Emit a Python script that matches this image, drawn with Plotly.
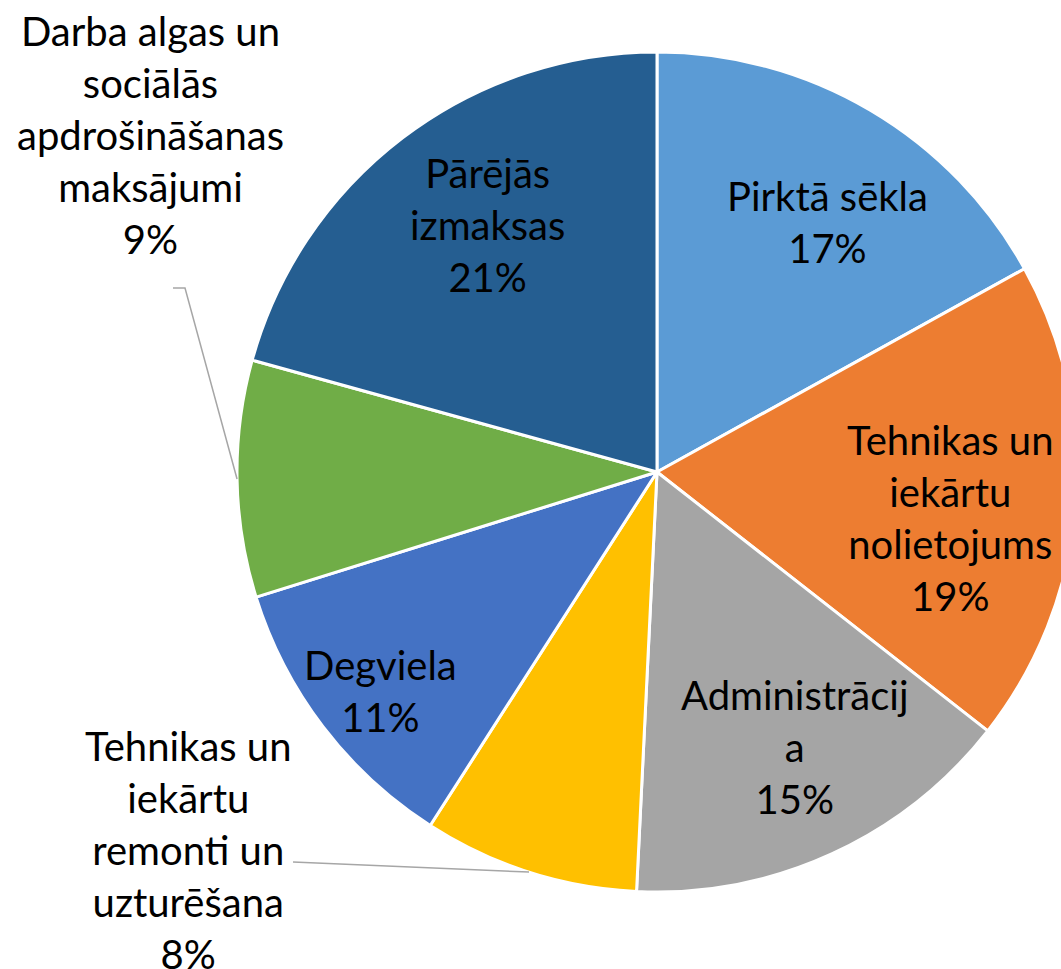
import math
import plotly.graph_objects as go

# ---- data ----
categories = [
    "Pirktā sēkla",
    "Tehnikas un iekārtu nolietojums",
    "Administrācija",
    "Tehnikas un iekārtu remonti un uzturēšana",
    "Degviela",
    "Darba algas un sociālās apdrošināšanas maksājumi",
    "Pārējās izmaksas",
]
values = [16.95, 18.6, 15.2, 8.3, 11.1, 9.1, 20.7]
# label text as wrapped in the original
label_lines = [
    ["Pirktā sēkla"],
    ["Tehnikas un", "iekārtu", "nolietojums"],
    ["Administrācij", "a"],
    ["Tehnikas un", "iekārtu", "remonti un", "uzturēšana"],
    ["Degviela"],
    ["Darba algas un", "sociālās", "apdrošināšanas", "maksājumi"],
    ["Pārējās", "izmaksas"],
]
colors = ["#5B9BD5", "#ED7D31", "#A5A5A5", "#FFC000", "#4472C4", "#70AD47", "#255E91"]

# ---- layout geometry (pixels) ----
W, H = 1100, 969
CX, CY, R = 657, 472, 420
# label centers (pixels)
label_pos = [(827, 222), (950, 518), (795, 747), (188, 850), (380, 691), (150, 135), (487, 225)]
# leader-line label-side points for outside labels: index -> list of points
leaders = {5: [(173, 288), (185, 288)], 3: [(293, 862)]}

FONT = "Lato, sans-serif"
FS = 40


def px(x):
    return x / W


def py(y):
    return 1 - y / H


fig = go.Figure(
    go.Pie(
        labels=categories,
        values=values,
        sort=False,
        direction="clockwise",
        rotation=0,
        marker=dict(colors=colors, line=dict(color="white", width=3)),
        textinfo="none",
        hoverinfo="label+percent",
        showlegend=False,
        domain=dict(x=[px(CX - R), px(CX + R)], y=[py(CY + R), py(CY - R)]),
    )
)

total = sum(values)
annotations = []
for i, (lines, v) in enumerate(zip(label_lines, values)):
    pct = round(100 * v / total)
    txt = "<br>".join(lines + [f"{pct}%"])
    x, y = label_pos[i]
    annotations.append(
        dict(
            x=px(x), y=py(y), xref="paper", yref="paper",
            text=txt, showarrow=False, align="center",
            xanchor="center", yanchor="middle",
            font=dict(family=FONT, size=FS, color="black"),
        )
    )

shapes = []
cum = 0
for i, v in enumerate(values):
    mid = (cum + v / 2) / total * 2 * math.pi
    cum += v
    if i in leaders:
        ex = CX + R * math.sin(mid)
        ey = CY - R * math.cos(mid)
        pts = leaders[i] + [(ex, ey)]
        path = "M " + " L ".join(f"{px(a)},{py(b)}" for a, b in pts)
        shapes.append(
            dict(type="path", path=path, xref="paper", yref="paper",
                 line=dict(color="#A6A6A6", width=1.5))
        )

fig.update_layout(
    width=W, height=H,
    margin=dict(l=0, r=0, t=0, b=0),
    paper_bgcolor="white", plot_bgcolor="white",
    annotations=annotations, shapes=shapes,
)

fig.write_html(
    "out.html",
    config={"displayModeBar": False},
    post_script="document.body.style.margin='0';document.body.style.overflow='hidden';document.documentElement.style.overflow='hidden';",
)
